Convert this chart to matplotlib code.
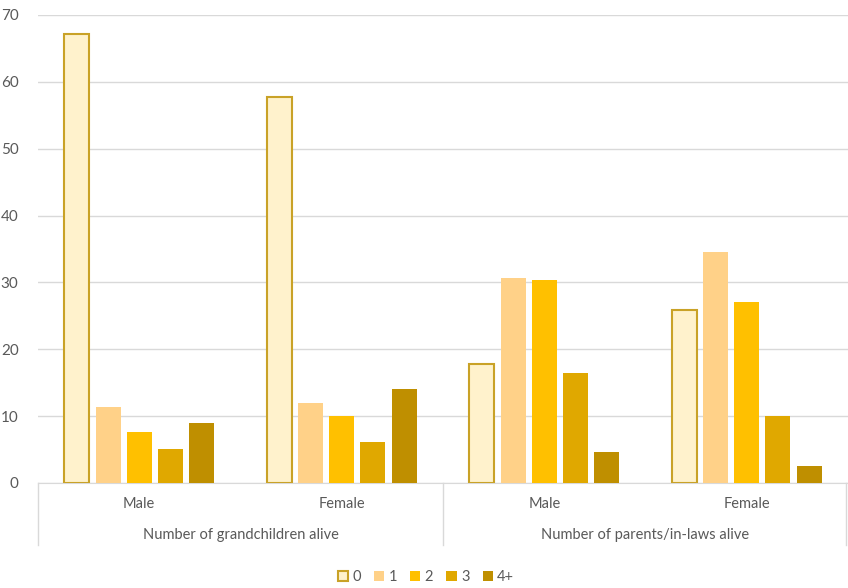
import matplotlib.pyplot as plt
import matplotlib.transforms as mtransforms
from matplotlib.patches import Patch
import numpy as np

plt.rcParams['font.family'] = ['Lato', 'DejaVu Sans']

# sub-groups and their parent groups
sexes = ['Male', 'Female', 'Male', 'Female']
groups = ['Number of grandchildren alive', 'Number of parents/in-laws alive']

series_names = ['0', '1', '2', '3', '4+']
values = {
    '0':  [67.2, 57.7, 17.8, 25.9],
    '1':  [11.4, 12.0, 30.7, 34.5],
    '2':  [7.6, 10.0, 30.4, 27.1],
    '3':  [5.1, 6.1, 16.5, 10.0],
    '4+': [9.0, 14.1, 4.6, 2.5],
}

fills = ['#FFF2CC', '#FFD188', '#FFC000', '#E0A800', '#BF8F00']
edges = ['#C9A227', '#FFD188', '#FFC000', '#E0A800', '#BF8F00']
text_col = '#595959'
grid_col = '#D9D9D9'

fig = plt.figure(figsize=(8.48, 5.88), dpi=100)
ax = fig.add_axes([38/848, 105/588, 810/848, 468/588])

x = np.arange(len(sexes))
step = 0.154
width = 0.123
for i, name in enumerate(series_names):
    off = (i - 2) * step
    lw = 1.5 if i == 0 else 0
    ax.bar(x + off, values[name], width, color=fills[i], edgecolor=edges[i],
           linewidth=lw, zorder=3)

ax.set_ylim(0, 70)
ax.set_xlim(-0.5, 3.5)
ax.set_yticks(range(0, 71, 10))
ax.yaxis.grid(True, color=grid_col, linewidth=1)
ax.set_axisbelow(True)
ax.tick_params(axis='y', length=0, labelsize=11, labelcolor=text_col, pad=14)
ax.set_xticks([])
for s in ['top', 'right', 'left']:
    ax.spines[s].set_visible(False)
ax.spines['bottom'].set_color(grid_col)

# two-level category axis
trans = mtransforms.blended_transform_factory(ax.transData, ax.transAxes)
for xi, s in zip(x, sexes):
    ax.text(xi, -21/468, s, transform=trans, ha='center', va='center',
            fontsize=10.5, color=text_col)
for gi, g in enumerate(groups):
    ax.text(gi * 2 + 0.5, -52/468, g, transform=trans, ha='center',
            va='center', fontsize=10.5, color=text_col)
for xs in [-0.5, 1.5, 3.49]:
    ax.plot([xs, xs], [0, -62/468], transform=trans, color=grid_col,
            linewidth=1, clip_on=False)

handles = [Patch(facecolor=fills[i], edgecolor=edges[i],
                 linewidth=1.5 if i == 0 else 0, label=n)
           for i, n in enumerate(series_names)]
fig.legend(handles=handles, loc='center', bbox_to_anchor=(426/848, 11/588),
           ncol=5, frameon=False, handlelength=0.7, handleheight=0.7,
           handletextpad=0.3, columnspacing=0.9, fontsize=10.5,
           labelcolor=text_col)

fig.savefig('out.png', dpi=100)
